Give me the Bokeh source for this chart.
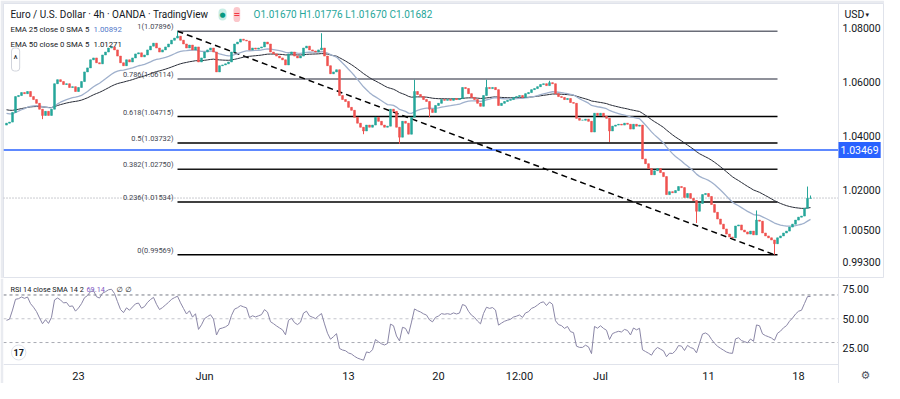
from bokeh.plotting import figure
from bokeh.layouts import column
from bokeh.models import (Range1d, FixedTicker, NumeralTickFormatter, Label, Span,
                          ColumnDataSource)
from bokeh.embed import file_html
from bokeh.resources import INLINE

# ---------------- data (EUR/USD, 4h, OANDA) ----------------
closes = [
    1.0447, 1.0451, 1.0487, 1.0546, 1.0550, 1.0561, 1.0557, 1.0565, 1.0546, 1.0535,
    1.0521, 1.0499, 1.0476, 1.0491, 1.0476, 1.0499, 1.0594, 1.0609, 1.0602, 1.0591,
    1.0594, 1.0580, 1.0583, 1.0565, 1.0580, 1.0602, 1.0638, 1.0653, 1.0683, 1.0690,
    1.0672, 1.0668, 1.0701, 1.0712, 1.0727, 1.0731, 1.0720, 1.0697, 1.0672, 1.0661,
    1.0683, 1.0675, 1.0690, 1.0705, 1.0709, 1.0694, 1.0701, 1.0720, 1.0734, 1.0745,
    1.0727, 1.0712, 1.0720, 1.0731, 1.0742, 1.0756, 1.0764, 1.0771, 1.0756, 1.0742,
    1.0727, 1.0738, 1.0720, 1.0731, 1.0675, 1.0690, 1.0712, 1.0720, 1.0727, 1.0712,
    1.0638, 1.0661, 1.0664, 1.0668, 1.0675, 1.0712, 1.0742, 1.0749, 1.0760, 1.0756,
    1.0753, 1.0720, 1.0727, 1.0723, 1.0727, 1.0731, 1.0749, 1.0742, 1.0712, 1.0705,
    1.0697, 1.0690, 1.0683, 1.0664, 1.0705, 1.0712, 1.0697, 1.0690, 1.0697, 1.0727,
    1.0734, 1.0720, 1.0716, 1.0712, 1.0720, 1.0727, 1.0697, 1.0661, 1.0631, 1.0638,
    1.0646, 1.0550, 1.0535, 1.0528, 1.0506, 1.0495, 1.0469, 1.0447, 1.0432, 1.0418,
    1.0440, 1.0432, 1.0440, 1.0469, 1.0454, 1.0440, 1.0432, 1.0436, 1.0499, 1.0491,
    1.0432, 1.0395, 1.0454, 1.0447, 1.0406, 1.0469, 1.0565, 1.0554, 1.0546, 1.0535,
    1.0528, 1.0499, 1.0487, 1.0513, 1.0521, 1.0535, 1.0532, 1.0535, 1.0532, 1.0539,
    1.0535, 1.0539, 1.0580, 1.0576, 1.0557, 1.0543, 1.0535, 1.0521, 1.0510, 1.0550,
    1.0580, 1.0576, 1.0580, 1.0572, 1.0513, 1.0521, 1.0528, 1.0532, 1.0535, 1.0543,
    1.0546, 1.0550, 1.0543, 1.0557, 1.0561, 1.0572, 1.0576, 1.0583, 1.0591, 1.0594,
    1.0587, 1.0598, 1.0594, 1.0557, 1.0546, 1.0543, 1.0535, 1.0539, 1.0524, 1.0521,
    1.0465, 1.0458, 1.0458, 1.0462, 1.0454, 1.0414, 1.0484, 1.0476, 1.0484, 1.0473,
    1.0465, 1.0418, 1.0436, 1.0440, 1.0443, 1.0440, 1.0447, 1.0443, 1.0425, 1.0443,
    1.0436, 1.0440, 1.0314, 1.0296, 1.0278, 1.0255, 1.0270, 1.0278, 1.0263, 1.0248,
    1.0181, 1.0192, 1.0188, 1.0196, 1.0211, 1.0207, 1.0170, 1.0185, 1.0167, 1.0159,
    1.0119, 1.0148, 1.0181, 1.0185, 1.0174, 1.0144, 1.0115, 1.0090, 1.0071, 1.0053,
    1.0034, 1.0023, 1.0020, 1.0064, 1.0068, 1.0049, 1.0042, 1.0034, 1.0045, 1.0031,
    1.0086, 1.0082, 1.0038, 1.0027, 1.0020, 1.0012, 0.9998, 1.0020, 1.0027, 1.0038,
    1.0045, 1.0060, 1.0071, 1.0086, 1.0097, 1.0101, 1.0130, 1.0167, 1.01682,
]
first_open = 1.0440
last_open = 1.01670
high_marks = {57: 1.07896, 105: 1.0782, 136: 1.0609, 160: 1.0609, 181: 1.0605,
              250: 1.0122, 267: 1.0211, 268: 1.01776}
low_marks = {12: 1.0462, 119: 1.0406, 131: 1.0370, 141: 1.0469, 201: 1.0377,
             230: 1.0075, 256: 0.99569}

ema25_start = 1.0487
ema50_start = 1.0499
rsi_seed_gain = 0.0008
rsi_seed_loss = 0.0009

tick_bars = [24, 66, 114, 144, 171, 198, 234, 264]
tick_labels = ["23", "Jun", "13", "20", "12:00", "Jul", "11", "18"]
price_ticks = [0.993, 1.005, 1.02, 1.04, 1.06, 1.08]
rsi_ticks = [25, 50, 75]
rsi_bands = [70, 50, 30]

fib_ratios = ["1", "0.786", "0.618", "0.5", "0.382", "0.236", "0"]
fib_levels = [1.07896, 1.06114, 1.04715, 1.03732, 1.02750, 1.01534, 0.99569]
fib_start_bar, fib_end_bar = 57, 257
trend_bars = [57, 256]
trend_prices = [1.07896, 0.99569]
support_level = 1.03469
last_price = 1.01682

# ---------------- derived series ----------------
n = len(closes)
xs = list(range(n))
opens = [first_open] + closes[:-1]
opens[-1] = last_open
highs, lows, colors = [], [], []
for i in range(n):
    hi = max(opens[i], closes[i]); lo = min(opens[i], closes[i])
    hi = max(hi, high_marks.get(i, hi)); lo = min(lo, low_marks.get(i, lo))
    highs.append(hi); lows.append(lo)
    colors.append("#26a69a" if closes[i] >= opens[i] else "#ef5350")


def ema(vals, length, seed):
    a = 2.0 / (length + 1); e = seed; out = []
    for v in vals:
        e = e + a * (v - e); out.append(e)
    return out


def rsi(vals, length, g0, l0, prev):
    ag, al = g0, l0; out = []
    for v in vals:
        d = v - prev; prev = v
        ag = (ag * (length - 1) + max(d, 0)) / length
        al = (al * (length - 1) + max(-d, 0)) / length
        out.append(100 - 100 / (1 + ag / al) if al > 0 else 100)
    return out


ema25 = ema(closes, 25, ema25_start)
ema50 = ema(closes, 50, ema50_start)
rsi14 = rsi(closes, 14, rsi_seed_gain, rsi_seed_loss, first_open)

# ---------------- layout (canvas pixel -> data) ----------------
W = 884
XS = -1.0
XB = XS + 835 / 3.0          # price-scale boundary (canvas x = 838)
XE = XS + (W - 3) / 3.0
PE, PS = 1.08928, 0.98685     # price frame canvas y 3 .. 278
PPY = 275 / (PE - PS)
RE, RB = 83.85, 11.54         # rsi frame canvas y 278 .. 364
PPR = 86 / (RE - RB)
RLO = RE - 105 / PPR          # extends to canvas bottom (383)
FONT = "Roboto"
SYM = "DejaVu Sans"
TXT = "#131722"
SEP = "#e0e3eb"


def cx(X):
    return XS + (X - 3) / 3.0


def cyp(Y):
    return PE - (Y - 3) / PPY


def cyr(Y):
    return RE - (Y - 278) / PPR


def lab(fig, X, y, text, size, color=TXT, font=FONT, **kw):
    fig.add_layout(Label(x=cx(X), y=y, text=text, text_font=font, text_font_size=size,
                         text_color=color, text_baseline=kw.pop("baseline", "middle"), **kw))


def style_axis(ax, standoff, size):
    ax.axis_line_color = None
    ax.major_tick_line_color = None
    ax.minor_tick_line_color = None
    ax.major_tick_out = 0
    ax.major_tick_in = 0
    ax.minor_tick_out = 0
    ax.minor_tick_in = 0
    ax.major_label_standoff = standoff
    ax.major_label_text_font = FONT
    ax.major_label_text_font_size = size
    ax.major_label_text_color = TXT


xr = Range1d(XS, XE)

# ---------------- price panel ----------------
p = figure(width=W, height=278, x_range=xr, y_range=Range1d(PS, PE),
           output_backend="svg", toolbar_location=None, x_axis_location=None,
           y_axis_location="right", min_border_left=3, min_border_right=0,
           min_border_top=3, min_border_bottom=0)
p.grid.visible = False
p.outline_line_color = SEP
p.background_fill_color = "white"
p.border_fill_color = "#e9ebf0"
ya = p.yaxis[0]
ya.fixed_location = XB
ya.ticker = FixedTicker(ticks=price_ticks)
ya.formatter = NumeralTickFormatter(format="0.00000")
style_axis(ya, 4, "10.5px")

src = ColumnDataSource(dict(x=xs, high=highs, low=lows,
                            top=[max(a, b) for a, b in zip(opens, closes)],
                            bottom=[min(a, b) for a, b in zip(opens, closes)],
                            color=colors))

p.add_layout(Span(location=XB, dimension="height", line_color=SEP, line_width=1))
p.segment(x0=[XS], y0=[support_level], x1=[XB], y1=[support_level],
          line_color="#2962ff", line_width=1.5)
p.segment(x0=[XS], y0=[last_price], x1=[XB], y1=[last_price],
          line_color="#9598a1", line_width=1, line_dash="1 2")

p.segment(x0=[fib_start_bar] * len(fib_levels), y0=fib_levels,
          x1=[fib_end_bar] * len(fib_levels), y1=fib_levels,
          line_color=["#6a6d78", "#6a6d78", "#000000", "#000000", "#1a1a1a", "#000000", "#000000"],
          line_width=1.5)
p.line(trend_bars, trend_prices, line_color="#000000", line_width=1.5, line_dash="6 4")

p.line(xs, ema50, line_color="#2a2e39", line_width=1)
p.line(xs, ema25, line_color="#9fb0cc", line_width=1.3)

p.segment(x0="x", y0="high", x1="x", y1="low", line_color="color", line_width=1, source=src)
p.vbar(x="x", width=0.66, top="top", bottom="bottom", fill_color="color",
       line_color="color", line_width=0.5, source=src)

for r, lv in zip(fib_ratios, fib_levels):
    lab(p, 173, lv, f"{r}({lv:.5f})", "7.4px", "#434651", text_align="right",
        baseline="bottom")

# header / legend
lab(p, 10, cyp(14), "Euro / U.S. Dollar · 4h · OANDA · TradingView", "10px")
p.add_layout(Label(x=cx(218), y=cyp(14), text="●", text_font=SYM, text_font_size="7px",
                   text_color="#089981", background_fill_color="#c9ede5",
                   border_radius=6, padding=(1, 2), text_baseline="middle"))
p.add_layout(Label(x=cx(233), y=cyp(14), text="=", text_font=SYM, text_font_size="8px",
                   text_color="#f23645", background_fill_color="#fbc7cb",
                   border_radius=4, padding=(0, 3), text_baseline="middle",
                   text_font_style="bold"))
lab(p, 253, cyp(14), "O1.01670 H1.01776 L1.01670 C1.01682", "10px", "#26a69a")
lab(p, 10, cyp(29), "EMA 25 close 0 SMA 5", "7.8px")
lab(p, 93, cyp(29), "1.00892", "7.8px", "#4f77c9")
lab(p, 10, cyp(44), "EMA 50 close 0 SMA 5", "7.8px")
lab(p, 93, cyp(44), "1.01271", "7.8px")
p.add_layout(Label(x=cx(11), y=cyp(59), text="^", text_font=FONT, text_font_size="10px",
                   text_color=TXT, text_baseline="middle", border_line_color="#d1d4dc",
                   border_radius=3, padding=(2, 6), background_fill_color="white"))
lab(p, 844, cyp(14), "USD", "10.5px")
lab(p, 865, cyp(14), "▾", "7px", font=SYM)
p.add_layout(Label(x=XB, y=support_level, text="1.03469", text_font=FONT,
                   text_font_size="10.5px", text_color="white",
                   text_baseline="middle", background_fill_color="#2962ff",
                   padding=(2, 4)))

# ---------------- RSI panel ----------------
q = figure(width=W, height=105, x_range=xr, y_range=Range1d(RLO, RE),
           output_backend="svg", toolbar_location=None, y_axis_location="right",
           min_border_left=3, min_border_right=0, min_border_top=0, min_border_bottom=0)
q.grid.visible = False
q.outline_line_color = None
q.background_fill_color = "white"
q.border_fill_color = "#e9ebf0"
qy = q.yaxis[0]
qy.fixed_location = XB
qy.ticker = FixedTicker(ticks=rsi_ticks)
qy.formatter = NumeralTickFormatter(format="0.00")
style_axis(qy, 4, "10.5px")
qx = q.xaxis[0]
qx.fixed_location = RB
qx.ticker = FixedTicker(ticks=tick_bars)
qx.major_label_overrides = {b: t for b, t in zip(tick_bars, tick_labels)}
style_axis(qx, 5, "11px")

q.add_layout(Span(location=XB, dimension="height", line_color=SEP, line_width=1))
q.segment(x0=[XS], y0=[RB], x1=[XB], y1=[RB], line_color=SEP, line_width=1)
for b, col in zip(rsi_bands, ["#787b86", "#c3c5cc", "#a9abb3"]):
    q.segment(x0=[XS], y0=[b], x1=[XB], y1=[b], line_color=col, line_width=1,
              line_dash="3 3")
q.line(xs, rsi14, line_color="#8a86a6", line_width=1)

lab(q, 10, cyr(289), "RSI 14 close SMA 14 2", "7.3px")
lab(q, 86, cyr(289), "69.14", "7.3px", "#7e57c2")
lab(q, 116, cyr(289), "∅  ∅", "7.3px", font=SYM)
q.add_layout(Label(x=cx(11), y=cyr(352), text="17", text_font=FONT, text_font_size="9px",
                   text_font_style="bold", text_color=TXT, text_baseline="middle",
                   background_fill_color="white", border_line_color=SEP,
                   border_radius=8, padding=(2, 4)))
q.add_layout(Label(x=cx(865), y=cyr(375), text="⚙", text_font=SYM, text_font_size="11px",
                   text_color="#50535e", text_align="center", text_baseline="middle"))

layout = column(p, q, spacing=0)
open("out.html", "w").write(file_html(layout, INLINE))
